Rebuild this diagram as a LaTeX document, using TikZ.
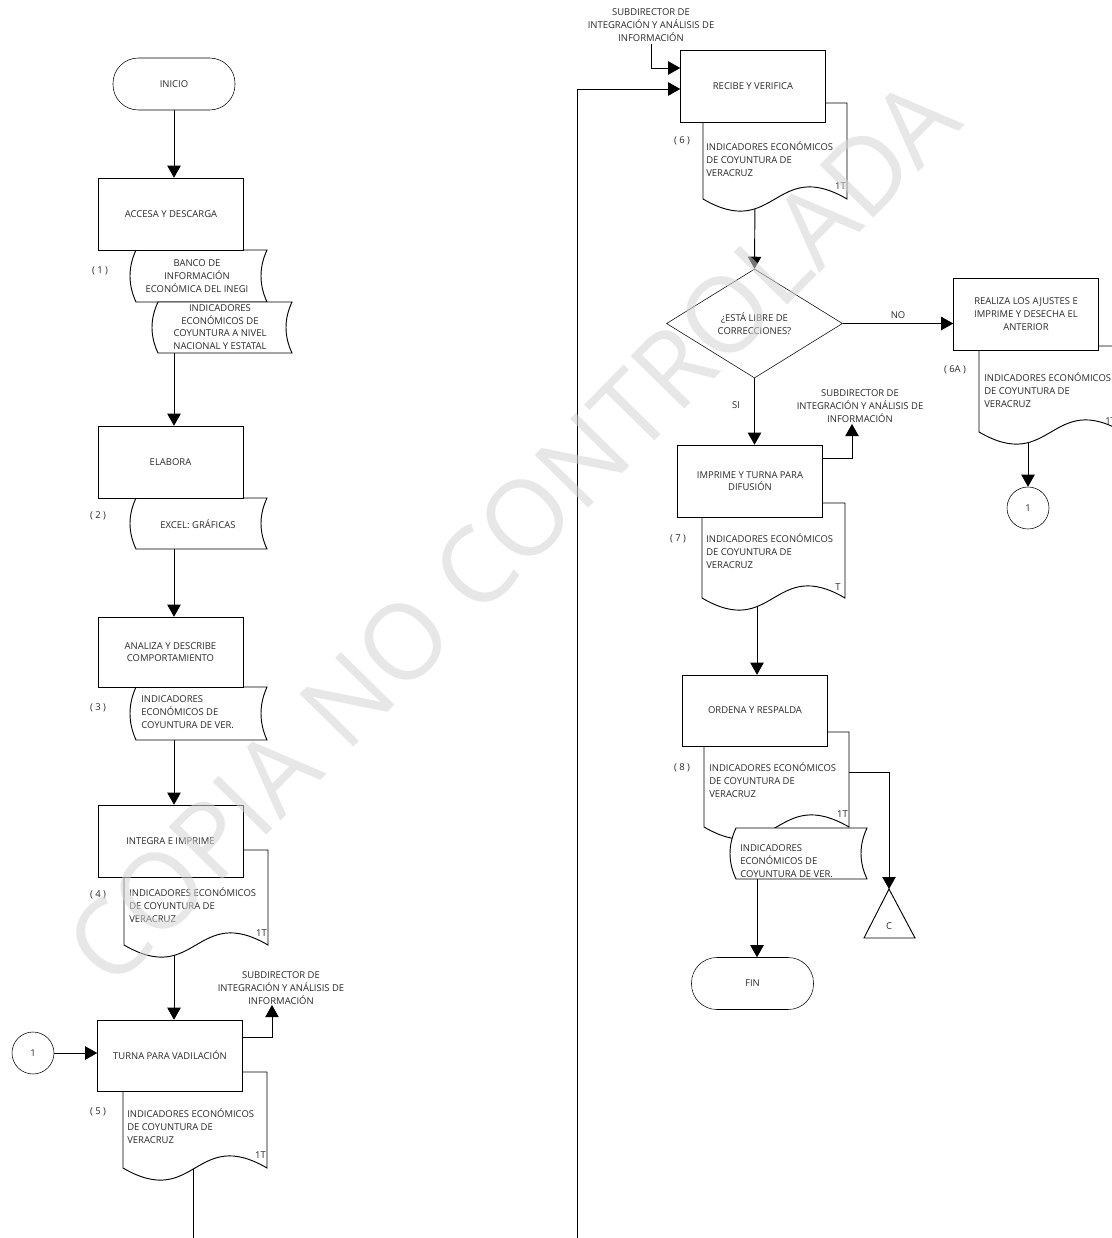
\documentclass[tikz,border=0pt]{standalone}
\usepackage{fontspec}
\setmainfont{Open Sans}
\usetikzlibrary{arrows.meta,shapes.geometric}
\pgfdeclarelayer{bg}
\pgfdeclarelayer{fg}
\pgfsetlayers{bg,main,fg}
\newcommand\diagfont{\fontsize{7.1pt}{9.5pt}\selectfont}
\definecolor{wmgray}{RGB}{212,212,212}
\definecolor{txt}{RGB}{40,40,40}
\newcommand\wavedoc[4]{\filldraw[docline] (#1,#2) -- (#1,#4) .. controls ({0.5*(#1+#3)},{#4+42}) and ({0.5*(#1+#3)},{#4-42}) .. (#3,#4) -- (#3,#2) -- cycle;}
\newcommand\storedoc[5]{\filldraw[docline] ({#1+#5},#2) -- (#3,#2) .. controls ({#3-1.333*#5},{#2+(#4-#2)/3}) and ({#3-1.333*#5},{#4-(#4-#2)/3}) .. (#3,#4) -- ({#1+#5},#4) .. controls ({#1-0.333*#5},{#4-(#4-#2)/3}) and ({#1-0.333*#5},{#2+(#4-#2)/3}) .. cycle;}
\begin{document}
\begin{tikzpicture}[x=0.75pt,y=-0.75pt,line width=0.7pt,
  every node/.style={font=\diagfont,text=txt},
  docline/.style={draw=black,fill=white,line width=0.7pt},
  box/.style={draw,fill=white,minimum width=145*0.75pt,minimum height=72*0.75pt,align=center,inner sep=1pt},
  term/.style={draw,fill=white,rounded corners=19pt,minimum width=122*0.75pt,minimum height=52*0.75pt,inner sep=0pt},
  circ/.style={draw,fill=white,circle,minimum size=42*0.75pt,inner sep=0pt},
  dtext/.style={anchor=west,align=left,inner sep=0pt},
  ctext/.style={align=center,inner sep=0pt},
  arr/.style={-{Triangle[length=9pt,width=10pt]}},
  conn/.style={draw=black,line width=0.7pt}]
\useasboundingbox (0,0) rectangle (1111,1238);
\begin{pgfonlayer}{bg}
\fill[white] (0,0) rectangle (1111,1238);
\end{pgfonlayer}

% ---------- documents (behind boxes) ----------
\storedoc{130}{250}{267}{302}{6}
\storedoc{152}{302}{292}{353}{6}
\storedoc{130}{498}{267}{549}{6}
\storedoc{130}{687}{267}{740}{6}
\wavedoc{124}{850}{268}{945}
\wavedoc{123}{1072}{267}{1168}
\wavedoc{703}{103}{847}{199}
\wavedoc{979}{346}{1123}{432}
\wavedoc{702}{503}{845}{598}
\wavedoc{704}{732}{849}{827}
\storedoc{730}{828}{867}{879}{6}

% ---------- left column ----------
\node[term] (ini) at (174,84) {INICIO};
\node[box] (acc) at (171,214) {ACCESA Y DESCARGA};
\node[ctext] (d1t) at (197,276) {BANCO DE\\INFORMACIÓN\\ECONÓMICA DEL INEGI};
\node[ctext] (d1bt) at (220,327) {INDICADORES\\ECONÓMICOS DE\\COYUNTURA A NIVEL\\NACIONAL Y ESTATAL};
\node (n1) at (100,271) {( 1 )};
\coordinate (d1bot) at (174,350);

\node[box] (ela) at (170.5,462) {ELABORA};
\node[ctext] (d2t) at (198,524) {EXCEL: GRÁFICAS};
\node (n2) at (98,516) {( 2 )};
\coordinate (d2bot) at (174,546);

\node[box,minimum height=70*0.75pt] (ana) at (170.5,652) {ANALIZA Y DESCRIBE\\COMPORTAMIENTO};
\node[dtext] (d3t) at (141,712) {INDICADORES\\ECONÓMICOS DE\\COYUNTURA DE VER.};
\node (n3) at (98,708) {( 3 )};
\coordinate (d3bot) at (174,737);

\node[box] (int) at (170.5,841) {INTEGRA E IMPRIME};
\node[dtext] (d4t) at (129,905) {INDICADORES ECONÓMICOS\\DE COYUNTURA DE\\VERACRUZ};
\node[anchor=east,inner sep=0pt] (d4r) at (267,933) {1T};
\node (n4) at (98,895) {( 4 )};
\coordinate (d4bot) at (174,950);

\node[box,minimum height=71*0.75pt] (tur) at (170,1055.5) {TURNA PARA VADILACIÓN};
\node[circ] (c1) at (33,1053) {1};
\node[ctext] (sub1) at (281,988) {SUBDIRECTOR DE\\INTEGRACIÓN Y ANÁLISIS DE\\INFORMACIÓN};
\coordinate (s1) at (272,1005);
\node[dtext] (d5t) at (127,1126) {INDICADORES ECONÓMICOS\\DE COYUNTURA DE\\VERACRUZ};
\node[anchor=east,inner sep=0pt] (d5r) at (266,1155) {1T};
\node (n5) at (98,1112) {( 5 )};
\coordinate (d5bot) at (193,1165);
\coordinate (e1) at (193,1238);

% ---------- right column ----------
\coordinate (e2) at (577,1238);
\node[ctext] (sub0) at (651,25) {SUBDIRECTOR DE\\INTEGRACIÓN Y ANÁLISIS DE\\INFORMACIÓN};
\coordinate (s0) at (651,44);
\node[box] (rec) at (753,86) {RECIBE Y VERIFICA};
\node[dtext] (d6t) at (706,159) {INDICADORES ECONÓMICOS\\DE COYUNTURA DE\\VERACRUZ};
\node[anchor=east,inner sep=0pt] (d6r) at (846,186) {1T};
\node (n6) at (682,141) {( 6 )};
\coordinate (d6bot) at (755,196);

\node[draw,fill=white,diamond,minimum width=176*0.75pt,minimum height=109*0.75pt,inner sep=0pt,align=center] (dia) at (754.5,323.5) {¿ESTÁ LIBRE DE\\CORRECCIONES?};

\node[box] (rea) at (1026,314) {REALIZA LOS AJUSTES E\\IMPRIME Y DESECHA EL\\ANTERIOR};
\node[dtext] (d6at) at (984,390) {INDICADORES ECONÓMICOS\\DE COYUNTURA DE\\VERACRUZ};
\node[anchor=west,inner sep=0pt] (d6ar) at (1105,421) {1T};
\node (n6a) at (955,370) {( 6A )};
\coordinate (d6abot) at (1028,438);
\node[circ] (c1b) at (1028,508) {1};

\node[box] (imp) at (750,481) {IMPRIME Y TURNA PARA\\DIFUSIÓN};
\node[ctext] (sub2) at (860,406) {SUBDIRECTOR DE\\INTEGRACIÓN Y ANÁLISIS DE\\INFORMACIÓN};
\coordinate (s2) at (852,424);
\node[dtext] (d7t) at (706,551) {INDICADORES ECONÓMICOS\\DE COYUNTURA DE\\VERACRUZ};
\node[inner sep=0pt] (d7r) at (838,587) {T};
\node (n7) at (678,539) {( 7 )};
\coordinate (d7bot) at (757,600);

\node[box,minimum height=71*0.75pt] (ord) at (755,710.5) {ORDENA Y RESPALDA};
\node[dtext] (d8t) at (709,780) {INDICADORES ECONÓMICOS\\DE COYUNTURA DE\\VERACRUZ};
\node[anchor=east,inner sep=0pt] (d8r) at (848,814) {1T};
\node (n8) at (682,768) {( 8 )};
\node[dtext] (d8bt) at (740,861) {INDICADORES\\ECONÓMICOS DE\\COYUNTURA DE VER.};
\coordinate (d8side) at (849,772);
\coordinate (d8bot) at (757,876);

\filldraw[docline] (889,889) -- (915,938) -- (864,938) -- cycle;
\coordinate (triapex) at (889,889);
\node (tric) at (889,926) {C};

\node[term] (fin) at (752.5,983.5) {FIN};

% ---------- connectors ----------
\begin{pgfonlayer}{bg}
\draw[conn,arr] (ini) -- (ini |- acc.north);
\draw[conn,arr] (d1bot) -- (d1bot |- ela.north);
\draw[conn,arr] (d2bot) -- (d2bot |- ana.north);
\draw[conn,arr] (d3bot) -- (d3bot |- int.north);
\draw[conn,arr] (d4bot) -- (d4bot |- tur.north);
\draw[conn,arr] (c1) -- (c1 -| tur.west);
\draw[conn,arr] ([yshift=13.9pt]tur.east) -| (s1);
\draw[conn] (d5bot) -- (e1);

\draw[conn,arr] (e2) |- ([yshift=-2.25pt]rec.west);
\draw[conn,arr] (s0) |- ([yshift=13.5pt]rec.west);
\draw[conn,arr] (d6bot) -- (dia.north);
\draw[conn,arr] (dia.east) -- (dia.east -| rea.west) node[midway,above=3pt,inner sep=0pt] (no) {NO};
\draw[conn,arr] (dia.south) -- (dia.south |- imp.north);
\node (si) at (736,405) {SI};
\draw[conn,arr] (d6abot) -- (c1b.north);
\draw[conn,arr] ([yshift=17.25pt]imp.east) -| (s2);
\draw[conn,arr] (d7bot) -- (d7bot |- ord.north);
\draw[conn,arr] (d8side) -| (triapex);
\draw[conn,arr] (d8bot) -- (d8bot |- fin.north);
\end{pgfonlayer}

% ---------- watermark ----------
\begin{pgfonlayer}{fg}
\node[rotate=45.5,text=wmgray,text opacity=0.55,font=\fontsize{79pt}{79pt}\selectfont,inner sep=0pt] (wm) at (512,532) {COPIA NO CONTROLADA};
\end{pgfonlayer}
\end{tikzpicture}
\end{document}
